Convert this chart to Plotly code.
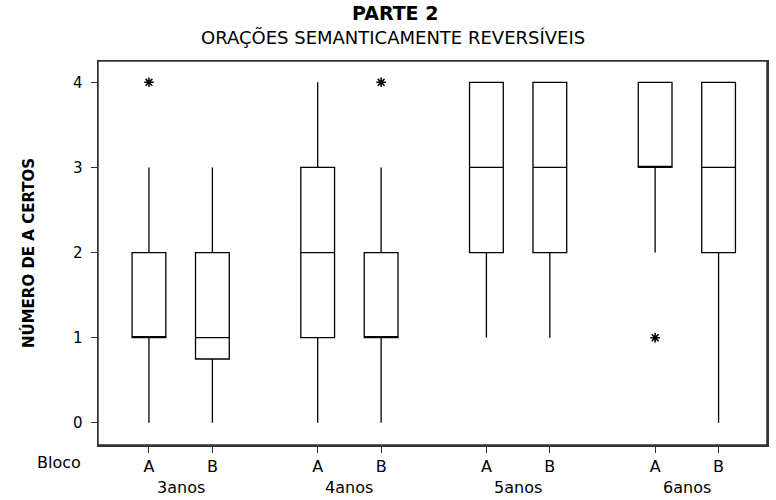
import plotly.graph_objects as go

# box statistics
ages = ["3anos", "4anos", "5anos", "6anos"]
blocos = ["A", "B"]
q1 = [[1, 0.75], [1, 1], [2, 2], [3, 2]]
median = [[1, 1], [2, 1], [3, 3], [3, 3]]
q3 = [[2, 2], [3, 2], [4, 4], [4, 4]]
low = [[0, 0], [0, 0], [1, 1], [2, 0]]
high = [[3, 3], [4, 3], [4, 4], [4, 4]]
outliers = [[[4], []], [[], [4]], [[], []], [[1], []]]

offset_b = 0.376
font = "DejaVu Sans"
xr = [-0.302, 3.663]
yr = [-0.26, 4.25]
px_x = lambda p: (p - 98) / 671  # pixel -> paper x

fig = go.Figure()
tick_pos = []
tick_txt = []
for g, age in enumerate(ages):
    for b, bl in enumerate(blocos):
        xpos = g + b * offset_b
        tick_pos.append(xpos)
        tick_txt.append(bl)
        fig.add_trace(go.Box(
            x=[xpos], q1=[q1[g][b]], median=[median[g][b]], q3=[q3[g][b]],
            lowerfence=[low[g][b]], upperfence=[high[g][b]],
            width=0.2, whiskerwidth=0, fillcolor="white",
            line=dict(color="black", width=1.3), boxpoints=False,
            showlegend=False, hoverinfo="skip"))
        if outliers[g][b]:
            fig.add_trace(go.Scatter(
                x=[xpos] * len(outliers[g][b]), y=outliers[g][b], mode="markers",
                marker=dict(symbol="asterisk-open", size=8, color="black",
                            line=dict(color="black", width=1.5)),
                showlegend=False, hoverinfo="skip"))
    fig.add_annotation(x=g + offset_b / 2, y=0, xref="x", yref="paper", yshift=-42,
                       text=age, showarrow=False, yanchor="middle", xanchor="center",
                       font=dict(family=font, size=16, color="black"))

# full plot frame
fig.add_shape(type="rect", xref="paper", yref="paper", x0=0, y0=0, x1=1, y1=1,
              line=dict(color="#333", width=1.5), layer="above")

fig.add_annotation(x=px_x(59), y=0, xref="paper", yref="paper", xanchor="center",
                   text="Bloco", showarrow=False, yanchor="middle", yshift=-17,
                   font=dict(family=font, size=16, color="black"))
fig.add_annotation(x=px_x(396), y=1, xref="paper", yref="paper", yshift=48,
                   text="<b>PARTE 2</b>", showarrow=False, yanchor="middle",
                   xanchor="center", font=dict(family=font, size=19, color="black"))
fig.add_annotation(x=px_x(394), y=1, xref="paper", yref="paper", yshift=24,
                   text="ORAÇÕES SEMANTICAMENTE REVERSÍVEIS", showarrow=False,
                   yanchor="middle", xanchor="center",
                   font=dict(family=font, size=18, color="black"))

fig.update_layout(
    width=776, height=500,
    margin=dict(l=98, r=7, t=61, b=55),
    plot_bgcolor="white", paper_bgcolor="white",
    font=dict(family=font, size=15, color="black"),
    xaxis=dict(range=xr, tickvals=tick_pos, ticktext=tick_txt,
               showgrid=False, zeroline=False, ticks="outside", ticklen=6,
               tickcolor="#333", showline=True, linecolor="#333", linewidth=1.5,
               mirror=True, tickfont=dict(size=16)),
    yaxis=dict(range=yr, tickvals=[0, 1, 2, 3, 4], showgrid=False,
               zeroline=False, ticks="outside", ticklen=6, tickcolor="#333",
               showline=True, linecolor="#333", linewidth=1.5, mirror=True,
               ticklabelstandoff=5,
               title=dict(text="<b>NÚMERO DE A CERTOS</b>", standoff=34,
                          font=dict(family=font, size=15))),
)

fig.write_html("out.html", config={"displayModeBar": False, "staticPlot": True},
               post_script="document.body.style.margin='0';")
